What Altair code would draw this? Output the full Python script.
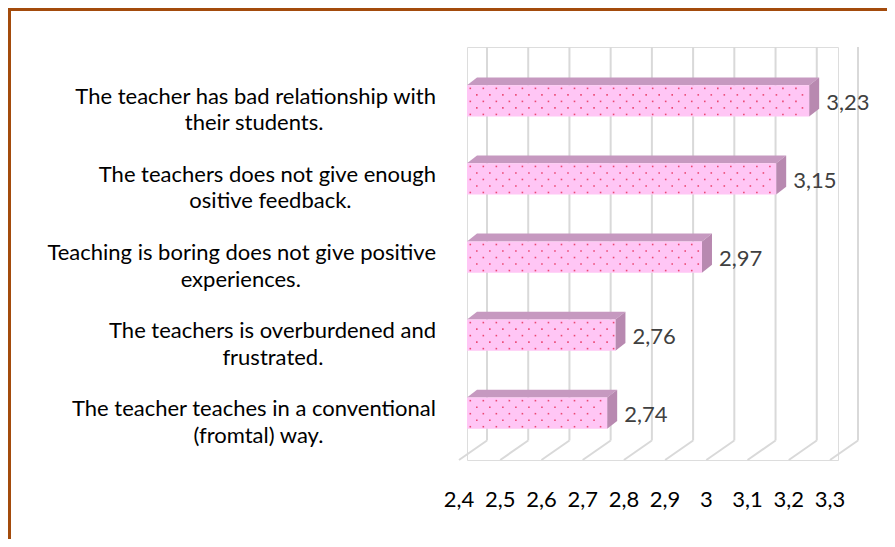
import altair as alt
import pandas as pd

# ---- data ----
label_lines = [
    ["The teacher has bad relationship with", "their students."],
    ["The teachers does not give enough", "ositive feedback."],
    ["Teaching is boring does not give positive", "experiences."],
    ["The teachers is overburdened and", "frustrated."],
    ["The teacher teaches in a conventional", "(fromtal) way."],
]
values = [3.23, 3.15, 2.97, 2.76, 2.74]
ticks = [2.4, 2.5, 2.6, 2.7, 2.8, 2.9, 3.0, 3.1, 3.2, 3.3]

# ---- style constants (3D look) ----
X0 = 2.4
DX = 0.0243      # bar depth, x units
DY = 0.10        # bar depth, row units
HALF = 0.2       # half bar thickness, rows
BACK = 0.0485    # back wall offset, x units
FRONT = -0.0194  # floor front offset, x units
Y_TOP = -0.69
Y_BACKFLOOR = 4.35
Y_FRONTFLOOR = 4.6

FONT = "Lato"
FS = 22
FRONT_COL = "#FFC6F5"
TOP_COL = "#C699C0"
SIDE_COL = "#B889B0"
GRID_COL = "#D9D9D9"

# approximate Lato advance widths (em) to center the second line under the first
_W = dict(a=.507, b=.56, c=.46, d=.56, e=.52, f=.33, g=.5, h=.56, i=.24, j=.24, k=.51,
          l=.24, m=.84, n=.56, o=.56, p=.56, q=.56, r=.37, s=.43, t=.35, u=.56, v=.51,
          w=.78, x=.5, y=.51, z=.45, T=.55)
_W.update({" ": .193, ".": .22, "(": .3, ")": .3})
NBSP_W = 0.255


def text_w(s):
    return sum(_W.get(ch, .55) for ch in s) * 1.02


def block(lines):
    w1, w2 = text_w(lines[0]), text_w(lines[1])
    pad = int(round((w1 - w2) / 2 / NBSP_W))
    # non-breaking spaces keep the second line centred under the first (right-aligned block);
    # a zero-width space stops the padding from being trimmed
    return lines[0] + "\n" + lines[1] + "\u00a0" * max(pad, 0) + "\u200b"


categories = [block(l) for l in label_lines]

xs = alt.Scale(domain=[2.4, 3.3], nice=False, zero=False)
ys = alt.Scale(domain=[Y_TOP, Y_FRONTFLOOR], nice=False, zero=False, reverse=True)

bars = pd.DataFrame({"i": range(len(values)), "v": values, "cat": categories})
bars["x0"] = X0
bars["ya"] = bars["i"] - HALF
bars["yb"] = bars["i"] + HALF
bars["lx"] = bars["v"] + DX

top_rows, side_rows, dots = [], [], []
DOT_DX, DOT_DY = 0.0316, 0.0834
for i, v in enumerate(values):
    top_rows.append({"i": i, "y": i - HALF, "xl": X0, "xr": v})
    top_rows.append({"i": i, "y": i - HALF - DY, "xl": X0 + DX, "xr": v + DX})
    side_rows.append({"i": i, "x": v, "ya": i + HALF, "yb": i - HALF})
    side_rows.append({"i": i, "x": v + DX, "ya": i + HALF - DY, "yb": i - HALF - DY})
    for r in range(5):
        yy = i - HALF + 0.04 + r * DOT_DY
        xx = X0 + 0.008 + (r % 2) * DOT_DX / 2
        while xx < v - 0.004:
            dots.append({"x": xx, "y": yy})
            xx += DOT_DX
top_df = pd.DataFrame(top_rows)
side_df = pd.DataFrame(side_rows)
dot_df = pd.DataFrame(dots)

grid = pd.DataFrame({"t": ticks})
grid["xb"] = grid["t"] + BACK
grid["xf"] = grid["t"] + FRONT
grid["ytop"] = Y_TOP
grid["yback"] = Y_BACKFLOOR
grid["yfront"] = Y_FRONTFLOOR

vgrid = alt.Chart(grid).mark_rule(color=GRID_COL, strokeWidth=2).encode(
    x=alt.X("xb:Q", scale=xs, axis=None),
    y=alt.Y("ytop:Q", scale=ys, axis=None),
    y2="yback:Q",
)
fgrid = alt.Chart(grid).mark_rule(color=GRID_COL, strokeWidth=2).encode(
    x=alt.X("xb:Q", scale=xs, axis=None),
    x2="xf:Q",
    y=alt.Y("yback:Q", scale=ys, axis=None),
    y2="yfront:Q",
)
xaxis = alt.Chart(grid).mark_text(
    font=FONT, fontSize=FS, color="#000000", baseline="middle"
).encode(
    x=alt.X("xf:Q", scale=xs, axis=None),
    y=alt.value(453),
    text=alt.Text("lab:N"),
).transform_calculate(lab="replace(format(datum.t, '~g'), '.', ',')")

top = alt.Chart(top_df).mark_area(orient="horizontal", color=TOP_COL, opacity=1).encode(
    y=alt.Y("y:Q", scale=ys, axis=None),
    x=alt.X("xl:Q", scale=xs, axis=None),
    x2="xr:Q",
    detail="i:N",
)
side = alt.Chart(side_df).mark_area(orient="vertical", color=SIDE_COL, opacity=1).encode(
    x=alt.X("x:Q", scale=xs, axis=None),
    y=alt.Y("ya:Q", scale=ys, axis=None),
    y2="yb:Q",
    detail="i:N",
)
front = alt.Chart(bars).mark_rect(color=FRONT_COL).encode(
    x=alt.X("x0:Q", scale=xs, axis=None),
    x2="v:Q",
    y=alt.Y("ya:Q", scale=ys, axis=None),
    y2="yb:Q",
)
dotlayer = alt.Chart(dot_df).mark_square(size=2.5, color="#E8305A", opacity=0.85).encode(
    x=alt.X("x:Q", scale=xs, axis=None),
    y=alt.Y("y:Q", scale=ys, axis=None),
)
vlabels = alt.Chart(bars).mark_text(
    font=FONT, fontSize=FS, color="#404040", align="left", baseline="middle", dx=7, dy=2
).encode(
    x=alt.X("lx:Q", scale=xs, axis=None),
    y=alt.Y("i:Q", scale=ys, axis=None),
    text="lab:N",
).transform_calculate(lab="replace(format(datum.v, '.2f'), '.', ',')")
clabels = alt.Chart(bars).mark_text(
    font=FONT, fontSize=FS, color="#000000", align="right", baseline="middle",
    lineBreak="\n", lineHeight=26.5, dy=-4,
).encode(
    x=alt.value(-31),
    y=alt.Y("i:Q", scale=ys, axis=None),
    text="cat:N",
)

border_top = alt.Chart(bars.head(1)).mark_rule(color="#A34B0C", strokeWidth=3).encode(
    x=alt.value(-458), x2=alt.value(430), y=alt.value(-37.5), y2=alt.value(-37.5)
)
border_left = alt.Chart(bars.head(1)).mark_rule(color="#A34B0C", strokeWidth=3).encode(
    x=alt.value(-457.5), x2=alt.value(-457.5), y=alt.value(-39), y2=alt.value(500)
)

chart = alt.layer(
    border_top, border_left, vgrid, fgrid, xaxis, top, side, front, dotlayer, vlabels, clabels
).properties(
    width=371, height=413,
    padding={"left": 459, "top": 39, "right": 49, "bottom": 79},
    autosize=alt.AutoSizeParams(type="none"),
).configure_view(stroke=None).configure(background="white")

chart.save("out.html", embed_options={"renderer": "svg", "actions": False})
